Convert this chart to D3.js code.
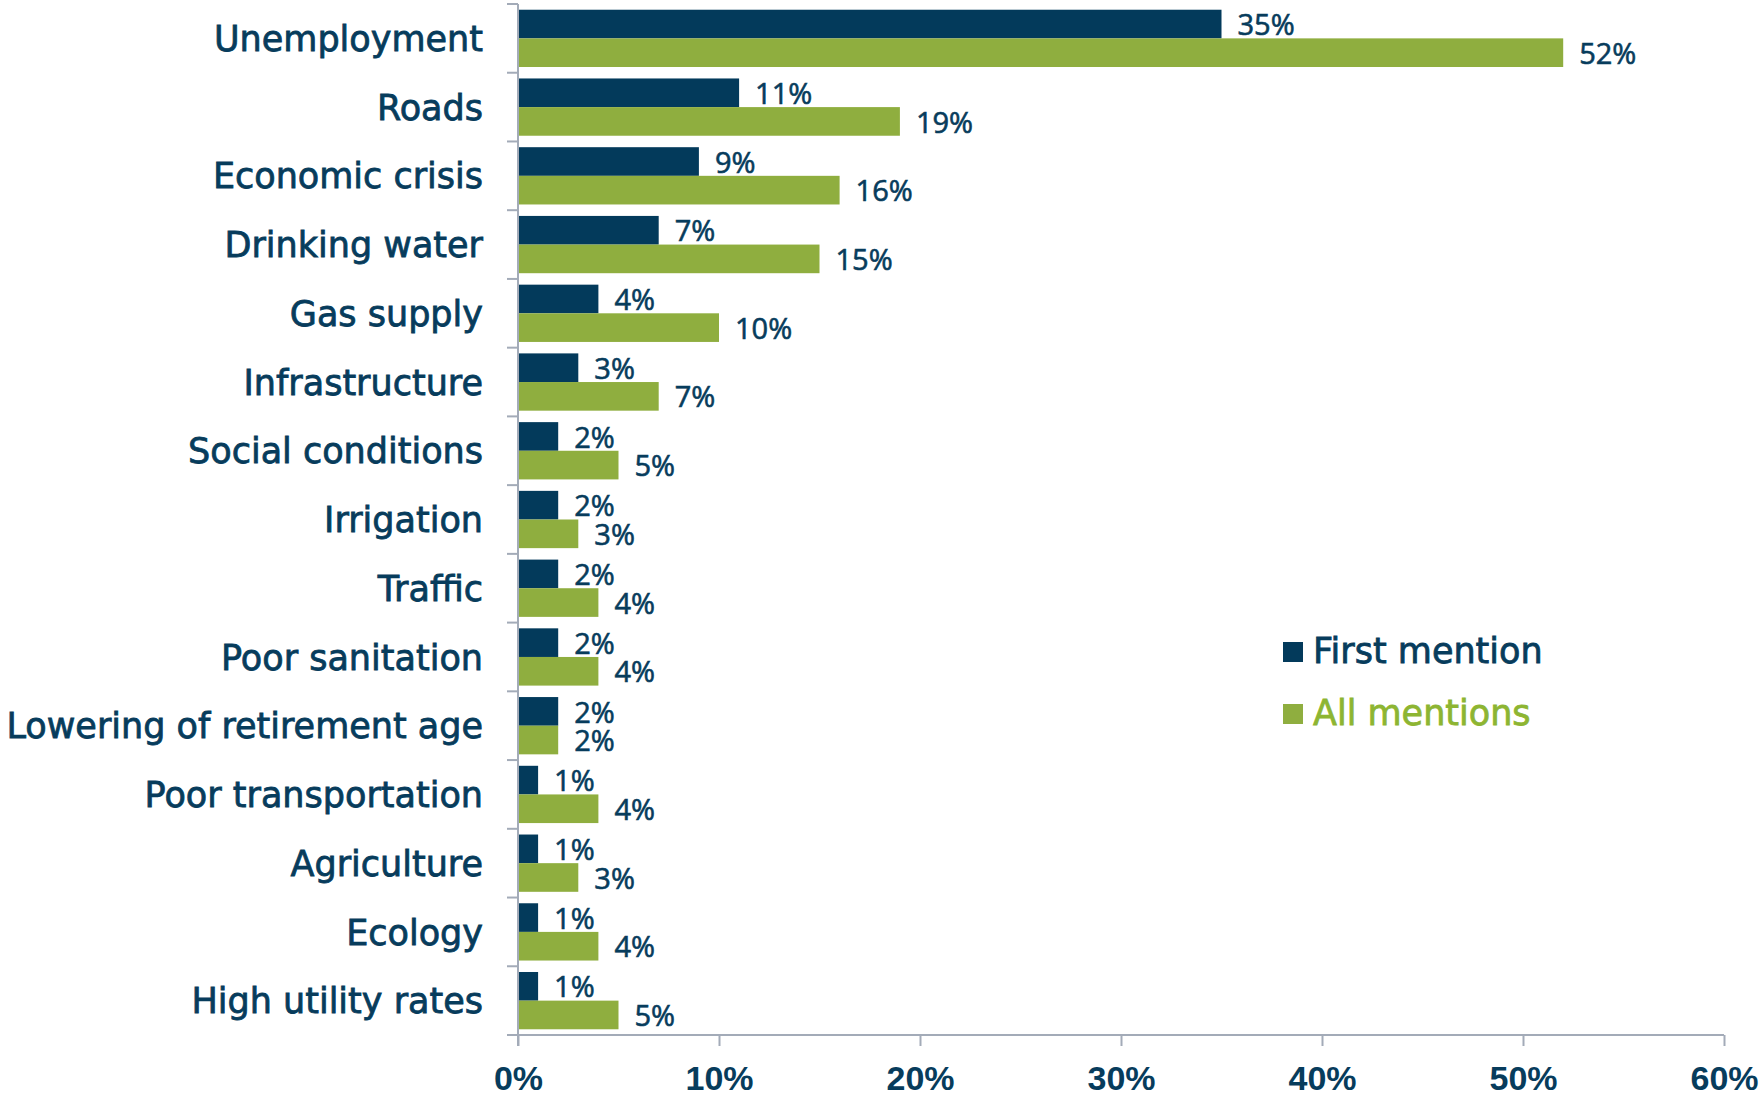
<!DOCTYPE html>
<html lang="en">
<head>
    <meta charset="UTF-8">
    <title>Problems mentioned</title>
    <script src="https://cdn.jsdelivr.net/npm/d3@7"></script>
</head>
<body>

    <div class="marco"></div>

    <script>
    const categorias = ["Unemployment", "Roads", "Economic crisis", "Drinking water", "Gas supply",
        "Infrastructure", "Social conditions", "Irrigation", "Traffic", "Poor sanitation",
        "Lowering of retirement age", "Poor transportation", "Agriculture", "Ecology", "High utility rates"]
    const primeraMencion = [35, 11, 9, 7, 4, 3, 2, 2, 2, 2, 2, 1, 1, 1, 1]
    const todasMenciones = [52, 19, 16, 15, 10, 7, 5, 3, 4, 4, 2, 4, 3, 4, 5]
    const series = ["First mention", "All mentions"]
    const ticksX = [0, 10, 20, 30, 40, 50, 60]

    var width = 1761,
        height = 1099,
        margin = { top: 4, left: 518, bottom: 64, right: 37 },
        innerWidth = width - margin.left - margin.right,
        innerHeight = height - margin.top - margin.bottom,
        colors = ["#033a5b", "#8fae3f"],
        textColors = ["#073c5c", "#8db532"]

    var datos = categorias.map((c, i) => ({ cat: c, valores: [primeraMencion[i], todasMenciones[i]] }))

    var svg = d3.select(".marco").append("svg")
        .attr("width", width)
        .attr("height", height);

    var g = svg.append("g")
        .attr("transform", `translate(${margin.left}, ${margin.top})`);

    var x = d3.scaleLinear().domain([0, 60]).range([0, innerWidth]),
        y = d3.scaleBand().domain(categorias).range([0, innerHeight]),
        ySerie = d3.scaleBand().domain([0, 1]).range([0, y.bandwidth()]).paddingOuter(0.2)

    // barras
    var grupos = g.selectAll("g.cat")
        .data(datos)
        .enter().append("g")
        .attr("class", "cat")
        .attr("transform", d => `translate(0, ${y(d.cat)})`)

    grupos.selectAll("rect")
        .data(d => d.valores)
        .enter().append("rect")
        .attr("x", 0)
        .attr("y", (d, i) => ySerie(i))
        .attr("width", d => x(d))
        .attr("height", ySerie.bandwidth())
        .attr("fill", (d, i) => colors[i])

    // etiquetas de valor
    grupos.selectAll("text.valor")
        .data(d => d.valores)
        .enter().append("text")
        .attr("class", "valor")
        .attr("x", d => x(d) + 16)
        .attr("y", (d, i) => ySerie(i) + ySerie.bandwidth() / 2 + 1)
        .attr("dy", "0.35em")
        .text(d => d + "%")

    // eje vertical
    var ejeY = g.append("g")
        .attr("class", "eje")
        .call(d3.axisLeft(y).tickSize(0).tickPadding(35))
    ejeY.select(".domain").remove()
    ejeY.selectAll("text").attr("class", "cat-label").attr("dy", "0.36em")
    ejeY.append("line")
        .attr("x1", 0).attr("x2", 0)
        .attr("y1", 0).attr("y2", innerHeight + 11)
    ejeY.selectAll("line.sep")
        .data(categorias)
        .enter().append("line")
        .attr("class", "sep")
        .attr("x1", -11).attr("x2", 0)
        .attr("y1", d => y(d)).attr("y2", d => y(d))

    // eje horizontal
    var ejeX = g.append("g")
        .attr("class", "eje")
        .attr("transform", `translate(0, ${innerHeight})`)
        .call(d3.axisBottom(x).tickValues(ticksX).tickSize(11).tickPadding(20).tickFormat(d => d + "%"))
    ejeX.select(".domain").remove()
    ejeX.selectAll("text").attr("class", "tick-label")
    ejeX.append("line")
        .attr("x1", -11).attr("x2", innerWidth)
        .attr("y1", 0).attr("y2", 0)

    // leyenda
    var leyenda = svg.append("g")
        .attr("transform", "translate(1283, 642)")
    var items = leyenda.selectAll("g")
        .data(series)
        .enter().append("g")
        .attr("transform", (d, i) => `translate(0, ${i * 62})`)
    items.append("rect")
        .attr("width", 20).attr("height", 20)
        .attr("fill", (d, i) => colors[i])
    items.append("text")
        .attr("x", 30).attr("y", 21)
        .attr("fill", (d, i) => textColors[i])
        .attr("stroke", (d, i) => textColors[i])
        .attr("class", "leyenda-texto")
        .text(d => d)
    </script>

    <style>
    html, body{padding: 0; margin: 0; background-color: #fff;}
    .marco{ width: 1761px; height: 1099px; }
    svg{ display: block; font-family: 'Open Sans', sans-serif; }
    .eje line{ stroke: #a3abb8; stroke-width: 2; }
    .eje .tick line{ stroke: #a3abb8; stroke-width: 2; }
    text.cat-label{ font-family: 'DejaVu Sans', sans-serif; font-size: 35px; fill: #073c5c; stroke: #073c5c; stroke-width: 0.8px; }
    text.tick-label{ font-size: 34px; font-weight: 700; fill: #073c5c; }
    text.valor{ font-size: 29px; fill: #073c5c; stroke: #073c5c; stroke-width: 0.6px; }
    text.leyenda-texto{ font-family: 'DejaVu Sans', sans-serif; font-size: 35px; stroke-width: 0.8px; }
    </style>
</body>
</html>
